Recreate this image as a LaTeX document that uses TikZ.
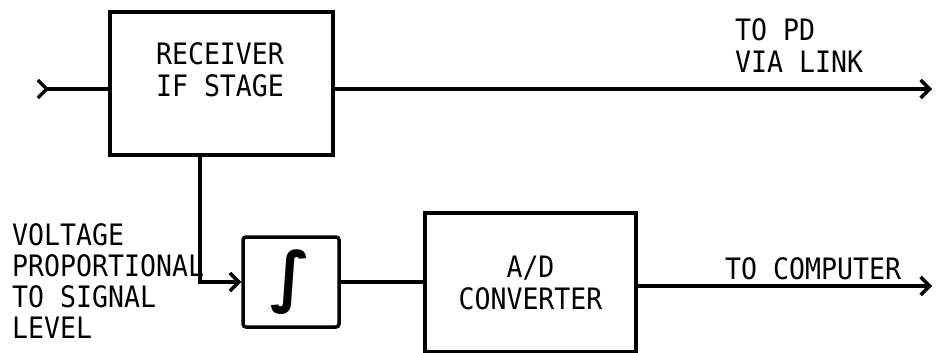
\documentclass[tikz,border=0pt]{standalone}
\usepackage{fontspec}
\usetikzlibrary{arrows.meta}
\newfontfamily\typ[FakeStretch=0.9]{DejaVu Sans Mono}
\newfontfamily\symf{DejaVu Sans}
\begin{document}
\begin{tikzpicture}[x=1pt,y=-1pt,
  blk/.style={draw, line width=3.5pt, inner sep=0pt},
  lbl/.style={font=\typ\fontsize{29.5}{32}\selectfont, inner sep=0pt},
  wire/.style={line width=3.5pt},
  >={Straight Barb[length=9pt,width=18pt,line width=3.5pt]}]
\useasboundingbox (0,0) rectangle (937,353);
\node[blk, minimum width=223pt, minimum height=143pt] (recv) at (221.5,83.5) {};
\node[lbl, align=center] (recvtxt) at (220,70) {RECEIVER\\IF STAGE};
\node[blk, rounded corners=3pt, minimum width=96pt, minimum height=90pt,
      font=\symf\bfseries\fontsize{66}{66}\selectfont] (integ) at (291,282) {\raisebox{-4pt}{∫}};
\node[blk, minimum width=211pt, minimum height=139pt, lbl, align=center] (ad) at (530.5,282.5) {A/D\\CONVERTER};
\node[lbl, align=left, anchor=north west] (pd) at (735,18) {TO PD\\VIA LINK};
\node[lbl, anchor=north west] (comp) at (725,257) {TO COMPUTER};
\node[lbl, align=left, anchor=north west, font=\typ\fontsize{29.5}{31}\selectfont] (volt) at (12,223) {VOLTAGE\\PROPORTIONAL\\TO SIGNAL\\LEVEL};
\coordinate (in) at (36,89);
\coordinate (pdend) at (932,89);
\coordinate (bend) at (200,282);
\coordinate (compend) at (932,286);
\draw[wire, {Straight Barb[reversed,length=9pt,width=18pt,line width=3.5pt]}-] (in) -- (in -| recv.west);
\draw[wire, ->] (recv.east |- pdend) -- (pdend);
\draw[wire, ->] (recv.south -| bend) -- (bend) -- (integ.west);
\draw[wire] (integ.east) -- (ad.west |- integ.east);
\draw[wire, ->] (ad.east |- compend) -- (compend);
\end{tikzpicture}
\end{document}
